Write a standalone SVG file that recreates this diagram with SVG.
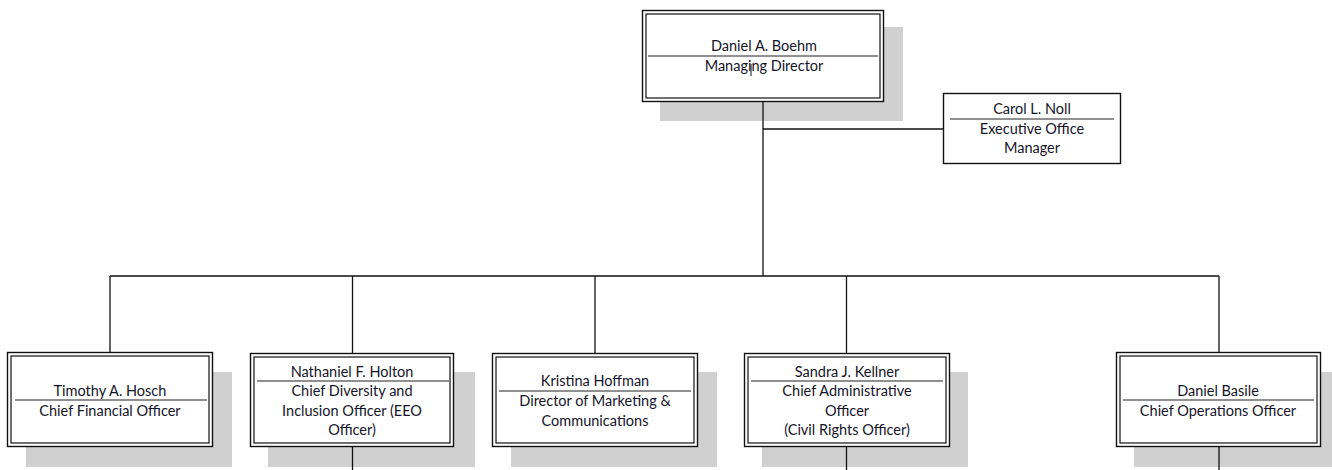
<svg xmlns="http://www.w3.org/2000/svg" width="1332" height="470" viewBox="0 0 1332 470">
<style>
.sh{fill:#d0d0d0}
.bx{fill:#fff;stroke:#111;stroke-width:1.4}
.in{fill:none;stroke:#111;stroke-width:1.2}
.dv{stroke:#222;stroke-width:1.2}
.t{font-family:Lato,"Open Sans",sans-serif;font-size:14.5px;fill:#15152a;text-anchor:middle}
.c{fill:none;stroke:#111;stroke-width:1.3}
</style>
<rect width="1332" height="470" fill="#fff"/>
<g id="n-boehm">
<rect class="sh" x="660" y="27" width="243" height="94"/>
<rect class="bx" x="642.5" y="10.5" width="241" height="91"/>
<rect class="in" x="646" y="14" width="234" height="84"/>
<line class="dv" x1="648" y1="56" x2="878" y2="56"/>
<text class="t" x="764" y="51">Daniel A. Boehm</text>
<text class="t" x="764" y="71">Managing Director</text>
<line x1="751" y1="64" x2="751" y2="76" stroke="#111" stroke-width="1"/>
</g>
<g id="n-noll">
<rect class="bx" x="943.5" y="93.5" width="177" height="70"/>
<line class="dv" x1="950" y1="119" x2="1114" y2="119"/>
<text class="t" x="1032" y="114">Carol L. Noll</text>
<text class="t" x="1032" y="134">Executive Office</text>
<text class="t" x="1032" y="153">Manager</text>
</g>
<g id="n-hosch">
<rect class="sh" x="26" y="372" width="206" height="95"/>
<rect class="bx" x="7.5" y="352.5" width="205" height="94"/>
<rect class="in" x="11" y="356" width="198" height="87"/>
<line class="dv" x1="15" y1="400" x2="207" y2="400"/>
<text class="t" x="110" y="396">Timothy A. Hosch</text>
<text class="t" x="110" y="416">Chief Financial Officer</text>
</g>
<g id="n-holton">
<rect class="sh" x="268" y="372" width="207" height="95"/>
<rect class="bx" x="250.5" y="353.5" width="203" height="93"/>
<rect class="in" x="254" y="357" width="196" height="86"/>
<line class="dv" x1="257" y1="381" x2="449" y2="381"/>
<text class="t" x="352" y="377">Nathaniel F. Holton</text>
<text class="t" x="352" y="396">Chief Diversity and</text>
<text class="t" x="352" y="416">Inclusion Officer (EEO</text>
<text class="t" x="352" y="435">Officer)</text>
</g>
<g id="n-hoffman">
<rect class="sh" x="511" y="372" width="206" height="95"/>
<rect class="bx" x="492.5" y="353.5" width="205" height="93"/>
<rect class="in" x="496" y="357" width="198" height="86"/>
<line class="dv" x1="499" y1="391" x2="691" y2="391"/>
<text class="t" x="595" y="386">Kristina Hoffman</text>
<text class="t" x="595" y="406">Director of Marketing &amp;</text>
<text class="t" x="595" y="426">Communications</text>
</g>
<g id="n-kellner">
<rect class="sh" x="762" y="372" width="206" height="95"/>
<rect class="bx" x="744.5" y="353.5" width="205" height="93"/>
<rect class="in" x="748" y="357" width="198" height="86"/>
<line class="dv" x1="751" y1="381" x2="943" y2="381"/>
<text class="t" x="847" y="377">Sandra J. Kellner</text>
<text class="t" x="847" y="396">Chief Administrative</text>
<text class="t" x="847" y="416">Officer</text>
<text class="t" x="847" y="435">(Civil Rights Officer)</text>
</g>
<g id="n-basile">
<rect class="sh" x="1134" y="372" width="206" height="95"/>
<rect class="bx" x="1116.5" y="352.5" width="204" height="94"/>
<rect class="in" x="1120" y="356" width="197" height="87"/>
<line class="dv" x1="1123" y1="400" x2="1314" y2="400"/>
<text class="t" x="1218" y="396">Daniel Basile</text>
<text class="t" x="1218" y="416">Chief Operations Officer</text>
</g>
<g id="connectors">
<path class="c" d="M763 102V276M763 129H943M110 276H1219M110 276V352M352.5 276V353M595 276V353M846.5 276V353M1219 276V352M352.5 447V470M846.5 447V470M1219 447V470"/>
</g>
</svg>
